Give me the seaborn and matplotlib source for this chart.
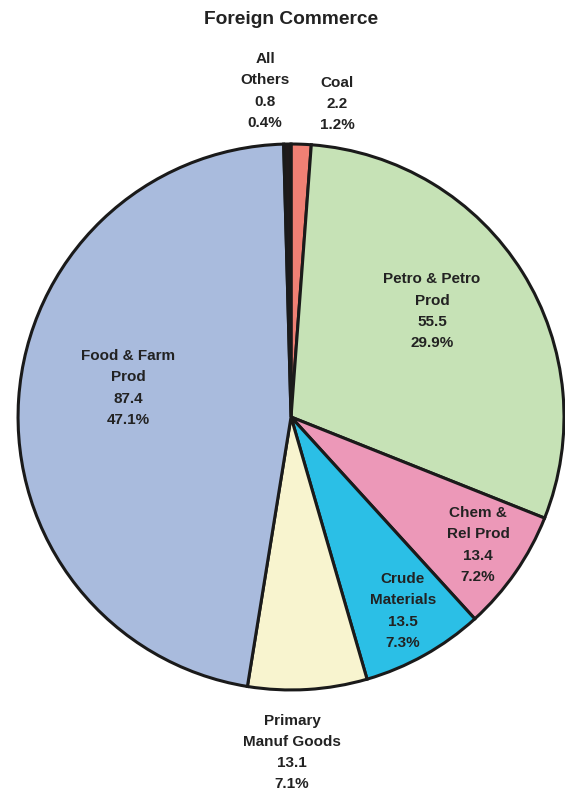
import numpy as np
import matplotlib
matplotlib.use("Agg")
import matplotlib.pyplot as plt
import seaborn as sns

categories = ["Coal", "Petro & Petro\nProd", "Chem &\nRel Prod", "Crude\nMaterials",
              "Primary\nManuf Goods", "Food & Farm\nProd", "All\nOthers"]
values = [2.2, 55.5, 13.4, 13.5, 13.1, 87.4, 0.8]
percents = ["1.2%", "29.9%", "7.2%", "7.3%", "7.1%", "47.1%", "0.4%"]
colors = ["#F08074", "#C6E2B6", "#EC98B8", "#2BBFE6", "#F8F4CF", "#A9BBDD", "#1F1A1A"]
# label anchor positions (data units, pie radius = 1)
label_pos = [(0.168, 1.147), (0.516, 0.388), (0.685, -0.469), (0.41, -0.711),
             (0.004, -1.23), (-0.597, 0.106), (-0.095, 1.194)]

sns.set_theme(style="white")
plt.rcParams["font.family"] = ["Liberation Sans", "DejaVu Sans"]

fig = plt.figure(figsize=(5.65, 7.97), dpi=100)
ax = fig.add_axes([0.0319, 0.1343, 0.9664, 0.685])
palette = sns.color_palette(colors)
ax.pie(values, colors=palette, startangle=90, counterclock=False, radius=1,
       wedgeprops=dict(edgecolor="#1a1a1a", linewidth=2.2))
ax.set_xlim(-1, 1)
ax.set_ylim(-1, 1)
ax.set_aspect("equal")
ax.axis("off")
for p in ax.patches:
    p.set_clip_on(False)

for cat, v, pc, (x, y) in zip(categories, values, percents, label_pos):
    ax.text(x, y, f"{cat}\n{v:.1f}\n{pc}", ha="center", va="center",
            fontsize=11, fontweight="bold", color="#222222",
            linespacing=1.65, clip_on=False)

fig.text(0.515, 1 - 19 / 797, "Foreign Commerce", ha="center", va="center",
         fontsize=13.8, fontweight="bold", color="#222222")

fig.savefig("out.png", dpi=100)
